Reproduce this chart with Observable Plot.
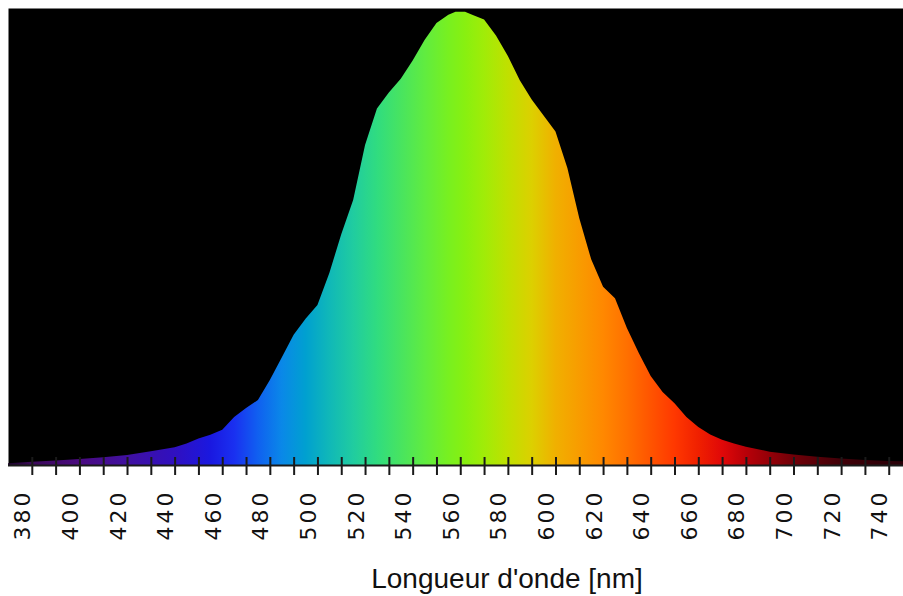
<!DOCTYPE html>
<html>
<head>
<meta charset="utf-8">
<script src="https://cdn.jsdelivr.net/npm/d3@7"></script>
<script src="https://cdn.jsdelivr.net/npm/@observablehq/plot@0.6"></script>
<style>
  html, body { margin: 0; padding: 0; background: #fff; }
  #wrap { position: relative; width: 903px; height: 596px; overflow: hidden; }
  #wrap svg g[aria-label="x-axis tick label"] text { letter-spacing: 3px; }
  #xtitle { position: absolute; left: 307px; width: 400px; top: 565px; text-align: center;
            font-family: "Liberation Sans", Arial, sans-serif; font-size: 28px; line-height: 28px; color: #111; }
</style>
</head>
<body>
<div id="wrap"><div id="xtitle">Longueur d'onde [nm]</div></div>
<script>
// Wavelength (nm) and relative intensity
const wavelengths = [370,380,390,400,410,420,430,440,445,450,455,460,465,470,475,480,485,490,495,500,505,510,515,520,525,530,535,540,545,550,555,558,562,565,570,575,580,585,590,595,600,605,610,615,620,625,630,635,640,645,650,655,660,665,670,675,680,690,700,710,720,730,740,746];
const intensity   = [0.004,0.007,0.010,0.013,0.017,0.022,0.030,0.039,0.047,0.058,0.066,0.077,0.105,0.125,0.142,0.186,0.235,0.285,0.320,0.350,0.420,0.505,0.580,0.700,0.780,0.815,0.845,0.885,0.930,0.967,0.985,0.992,0.992,0.985,0.975,0.940,0.895,0.842,0.800,0.765,0.730,0.650,0.540,0.450,0.390,0.365,0.300,0.245,0.195,0.160,0.135,0.105,0.083,0.067,0.055,0.047,0.040,0.029,0.023,0.018,0.014,0.011,0.009,0.008];

// Axis ticks
const minorTicks = [380,390,400,410,420,430,440,450,460,470,480,490,500,510,520,530,540,550,560,570,580,590,600,610,620,630,640,650,660,670,680,690,700,710,720,730,740];
const labelTicks = [380,400,420,440,460,480,500,520,540,560,580,600,620,640,660,680,700,720,740];

// Spectrum colour stops (wavelength -> colour)
const stopNm    = [370,380,400,420,440,455,465,475,485,495,505,515,525,535,545,555,562,570,580,590,600,610,620,630,640,650,660,670,680,700,720,746];
const stopColor = ["#1a0428","#3a0858","#4a0a80","#4010a0","#3010c0","#1a18e0","#1a30f0","#1060f0","#0a88e8","#00a0d0","#10b8b8","#20cca0","#30dc80","#48e460","#60ec40","#78f020","#88f010","#a0ec08","#c0e000","#dcd000","#f0b000","#f89c00","#ff8800","#ff7000","#ff5400","#ff3800","#f02000","#e00808","#b80008","#700008","#400008","#280008"];

const data = wavelengths.map((nm, i) => ({nm, v: intensity[i]}));
const xDomain = [370, 746];

const plot = Plot.plot({
  width: 903,
  height: 596,
  marginLeft: 8,
  marginRight: 0,
  marginTop: 8,
  marginBottom: 131,
  style: {background: "white", color: "#111"},
  x: {domain: xDomain, axis: null},
  y: {domain: [0, 1], axis: null},
  marks: [
    Plot.frame({fill: "black", stroke: null}),
    Plot.areaY(data, {x: "nm", y: "v", fill: "url(#spectrum)", curve: "linear"}),
    Plot.ruleY([0], {stroke: "#1a1a1a", strokeWidth: 2}),
    Plot.axisX(minorTicks, {anchor: "bottom", tickSize: 18, dy: -8, fill: "none", label: null, stroke: "#1a1a1a", strokeWidth: 2}),
    Plot.axisX(labelTicks, {anchor: "bottom", tickSize: 0, tickPadding: 24, tickRotate: -90, dx: -9, label: null,
      fontSize: 22, fontFamily: "DejaVu Sans", fill: "#111"})
  ]
});

const xs = plot.scale("x");
const defs = d3.select(plot).insert("defs", ":first-child");
const grad = defs.append("linearGradient")
  .attr("id", "spectrum")
  .attr("gradientUnits", "userSpaceOnUse")
  .attr("x1", xs.apply(xDomain[0])).attr("x2", xs.apply(xDomain[1]))
  .attr("y1", 0).attr("y2", 0);
stopNm.forEach((nm, i) => {
  grad.append("stop")
    .attr("offset", (nm - xDomain[0]) / (xDomain[1] - xDomain[0]))
    .attr("stop-color", stopColor[i]);
});

document.getElementById("wrap").prepend(plot);
</script>
</body>
</html>
